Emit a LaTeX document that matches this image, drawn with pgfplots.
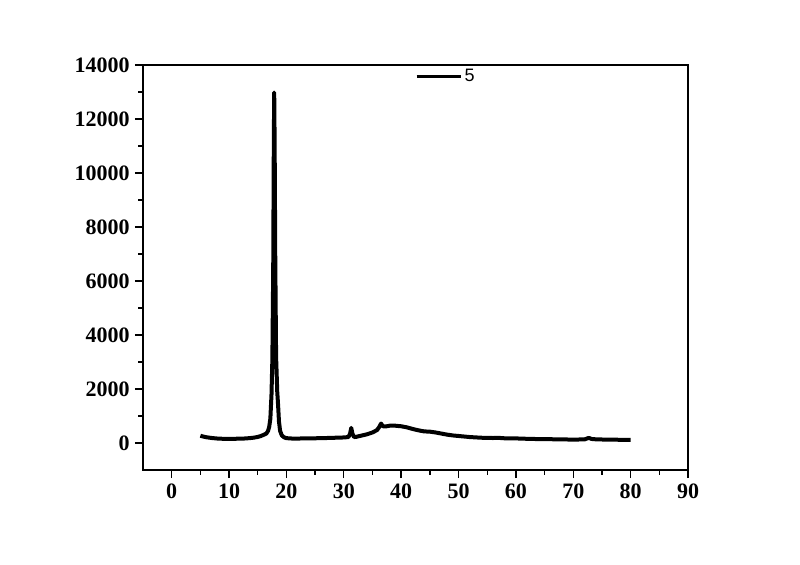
\documentclass[border=0pt]{standalone}
\usepackage{pgfplots}
\pgfplotsset{compat=1.18}
\usepackage{fontspec}
\setmainfont{Liberation Serif}
\newfontfamily\arial{Liberation Sans}

\begin{document}
\begin{tikzpicture}
\begin{axis}[
    name=ax,
    scale only axis,
    width=408.75pt, height=303.75pt,
    xmin=-5, xmax=90,
    ymin=-1000, ymax=14000,
    xtick={0,10,...,90},
    ytick={0,2000,...,14000},
    minor x tick num=1,
    minor y tick num=1,
    tick align=outside,
    tick pos=left,
    major tick length=6pt,
    minor tick length=3.5pt,
    axis line style={line width=1.1pt},
    every tick/.style={line width=1pt, black},
    scaled y ticks=false,
    /pgf/number format/assume math mode=true,
    /pgf/number format/.cd, fixed, set thousands separator={}, 1000 sep={},
    /pgfplots/.cd,
    ticklabel style={font=\fontsize{16.5}{19}\selectfont\bfseries},
    xticklabel style={yshift=-1pt},
    yticklabel style={xshift=-0.5pt},
    legend style={at={(rel axis cs:0.499,0.972)}, anchor=west, draw=none, fill=none,
        inner sep=0pt, font=\arial\fontsize{13.5}{15}\selectfont},
    legend image code/.code={\draw[line width=2pt] (0pt,0pt) -- (33pt,0pt);},
]
\addplot[black, line width=3pt, line join=round] coordinates {
(5.0,270) (5.3,250) (5.7,230) (6,215) (6.5,200) (7,185) (7.5,175) (8,165)
(8.5,160) (9,155) (9.5,155) (10,155) (10.5,155) (11,155) (11.5,160) (12,160)
(12.5,165) (13,170) (13.5,180) (14,190) (14.5,205) (15,225) (15.5,255) (16,300)
(16.5,350) (16.8,450) (17.0,600) (17.2,900) (17.4,1800) (17.55,3100) (17.7,6500)
(17.8,11000) (17.87,12980) (17.95,11000) (18.05,7000) (18.2,3200) (18.4,1900)
(18.55,1400) (18.7,800) (18.9,450) (19.2,280) (19.6,210) (20,180)
(21,165) (22,165) (23,170) (24,170) (25,175) (26,180) (27,185) (28,190) (29,200)
(30,205) (30.8,220) (31.1,350) (31.3,560) (31.5,350) (31.8,220) (32.2,230)
(33,270) (34,320) (35,390) (35.8,480) (36.2,600) (36.5,720) (36.8,620)
(37.5,620) (38,640) (39,640) (40,620) (41,580) (42,520) (43,470) (44,430)
(45,420) (46,390) (47,350) (48,310) (49,280) (50,260) (52,220) (54,195)
(56,185) (57,190) (58,175) (60,170) (62,155) (64,145) (66,140) (68,135)
(70,125) (72,135) (72.7,190) (73.2,150) (74,135) (76,125) (78,120) (80,115)
};
\addlegendentry{5}
\end{axis}
\pgfresetboundingbox
\path[use as bounding box] ([xshift=-107.25pt, yshift=-70.5pt]ax.south west)
    rectangle ([xshift=84pt, yshift=48.75pt]ax.north east);
\end{tikzpicture}
\end{document}
